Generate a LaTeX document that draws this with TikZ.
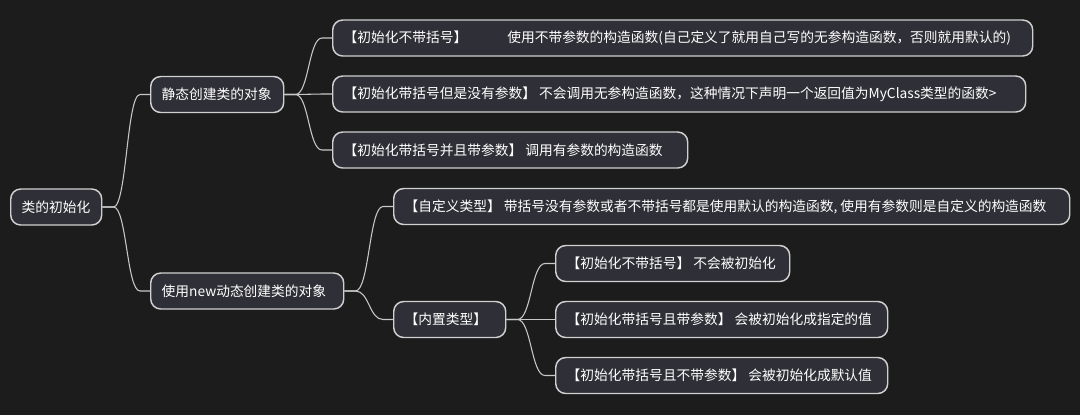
\documentclass[tikz,border=0pt]{standalone}
\usepackage{fontspec}
\setmainfont{Noto Sans CJK SC}
\usetikzlibrary{calc}
\definecolor{bg}{HTML}{1C1C1D}
\definecolor{boxfill}{HTML}{2F2F37}
\definecolor{boxline}{HTML}{D0D0D0}
\definecolor{linkc}{HTML}{C8C8C8}
% left-aligned text of fixed width inside a topic box
\newcommand\lbox[2]{\makebox[#1][l]{#2}}
% curved mind-map branch from parent (#1) to child (#2)
\newcommand\branch[2]{%
  \draw[link] let \p1=($(#1.east)+(11,0)$), \p2=($(#2.west)+(-10,0)$) in
    (#1.east) -- (\p1) .. controls ({(\x1+\x2)/2},\y1) and ({(\x1+\x2)/2},\y2) .. (\p2) -- (#2.west);}
\begin{document}
\begin{tikzpicture}[x=0.75pt,y=-0.75pt,
  topic/.style={draw=boxline, fill=boxfill, line width=1.1pt, rounded corners=7.5pt,
    text=white, anchor=west, minimum height=27pt, inner xsep=8.25pt, inner ysep=0pt,
    font=\fontsize{10.3}{12}\selectfont},
  link/.style={draw=linkc, line width=0.8pt}]
\fill[bg] (0,0) rectangle (1080,415);
\useasboundingbox (0,0) rectangle (1080,415);

% root
\node[topic] (root) at (10,207) {\lbox{51.75pt}{类的初始化}};

% first level
\node[topic] (static) at (150,94.5) {\lbox{83.25pt}{静态创建类的对象}};
\node[topic] (dyn) at (150,291) {\lbox{128.25pt}{使用new动态创建类的对象}};

% static creation
\node[topic] (s1) at (332,38) {\lbox{508.5pt}{【初始化不带括号】\hspace{30pt}使用不带参数的构造函数(自己定义了就用自己写的无参构造函数，否则就用默认的)}};
\node[topic] (s2) at (332,94) {\lbox{503.25pt}{【初始化带括号但是没有参数】 不会调用无参构造函数，这种情况下声明一个返回值为MyClass类型的函数>}};
\node[topic] (s3) at (332,150) {\lbox{249.75pt}{【初始化带括号并且带参数】 调用有参数的构造函数}};

% dynamic creation
\node[topic] (custom) at (393,206.5) {\lbox{490.5pt}{【自定义类型】 带括号没有参数或者不带括号都是使用默认的构造函数, 使用有参数则是自定义的构造函数}};
\node[topic] (builtin) at (393,319.5) {\lbox{67.5pt}{【内置类型】}};

% built-in types
\node[topic] (b1) at (555,263.5) {\lbox{159pt}{【初始化不带括号】 不会被初始化}};
\node[topic] (b2) at (555,319.5) {\lbox{232.5pt}{【初始化带括号且带参数】 会被初始化成指定的值}};
\node[topic] (b3) at (555,375.5) {\lbox{232.5pt}{【初始化带括号且不带参数】 会被初始化成默认值}};

% branches
\branch{root}{static}
\branch{root}{dyn}
\branch{static}{s1}
\branch{static}{s2}
\branch{static}{s3}
\branch{dyn}{custom}
\branch{dyn}{builtin}
\branch{builtin}{b1}
\branch{builtin}{b2}
\branch{builtin}{b3}
\end{tikzpicture}
\end{document}
